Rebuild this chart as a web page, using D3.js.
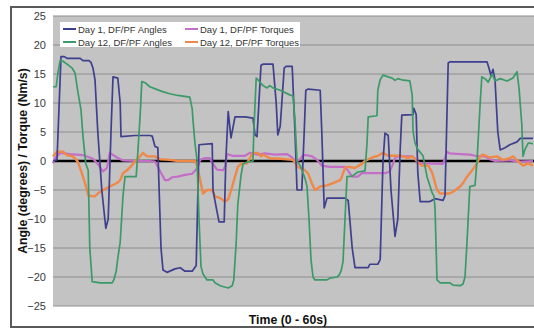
<!DOCTYPE html>
<html>
<head>
<meta charset="utf-8">
<script src="https://cdn.jsdelivr.net/npm/d3@7"></script>
<style>
  html, body { margin: 0; padding: 0; background: #fff; }
  svg { display: block; font-family: "Liberation Sans", Arial, sans-serif; }
</style>
</head>
<body>
<svg id="chart" width="534" height="329"></svg>
<script>
// ----------- Data: [time (s), value] ---------------------------------
const day1Angles = [
  [0,0],[0.5,0.2],[1,18],[1.4,18],[1.75,17.7],[3.4,17.7],[3.75,17.3],[4.5,17.3],[4.75,17],
  [5,16],[5.25,14],[5.6,5],[6.1,-5],[6.6,-11.6],[6.9,-10],[7.25,5],[7.5,14.5],[8.1,14.3],
  [8.4,10],[8.5,4.2],[10.25,4.4],[12.1,4.4],[12.4,4.3],[12.75,2.5],[13.1,2.3],[13.5,-15],
  [13.75,-18.8],[14.25,-19.2],[15.25,-18.6],[15.9,-18.4],[16.5,-19],[17.4,-19],[17.9,-18],
  [18.25,2.8],[19.9,3],[20,-5],[20.4,-8],[20.75,-10.5],[21.4,-10.5],[21.6,0],[21.9,8.5],
  [22.25,4],[22.75,7.6],[24,7.6],[25,7.4],[25.25,4.5],[25.5,4.2],[26,16.5],[26.25,16.7],
  [27.5,16.7],[27.9,10],[28.1,4.5],[28.4,6],[28.9,16],[29.1,16.3],[29.9,16.3],[30.25,5],
  [30.5,-5],[31.1,-5],[31.4,5],[31.6,12.2],[31.9,12.4],[33.4,12.2],[33.6,5],[33.9,-8.1],
  [34.25,-6.4],[36.5,-6.4],[36.9,-6.8],[37.4,-15],[37.75,-18.4],[39.4,-18.4],[39.6,-17.8],
  [40.6,-17.8],[40.9,-17],[41.25,0],[41.5,4.8],[41.9,4.4],[42.25,-5],[42.75,-13],[43.1,-10],
  [43.4,2],[43.6,7.9],[45,8],[45.1,9.1],[45.4,8],[45.6,-2],[45.9,-7],[47.1,-7],[47.75,-6.5],
  [48.75,-6.8],[49,-6],[49.4,16.9],[49.6,17.1],[54.25,17.1],[54.5,16],[54.75,14.7],[55,15.8],
  [55.25,14],[55.6,5],[55.9,1.9],[56.5,2.3],[57.1,2.8],[58,3.3],[58.4,3.9],[60,3.9]
];

const day12Angles = [
  [0,12.8],[0.4,12.8],[0.6,15],[0.9,17.4],[1.25,17.2],[1.75,16.7],[2.4,16],[2.75,15.2],
  [3.1,12],[3.5,8.8],[3.75,4.2],[4.1,-0.5],[4.4,-1.6],[4.6,-15],[4.9,-20.8],[5.9,-21],
  [7.4,-21],[7.6,-20.5],[7.9,-19],[8.1,-16.8],[8.4,-14],[8.75,-6],[9,-2.7],[10.4,-2.7],
  [10.6,1.4],[10.9,8],[11.1,13.7],[11.5,13.5],[12.1,12.8],[13.6,12],[14.6,11.6],[15.6,11.3],
  [17.1,11],[17.4,9],[17.5,7],[17.75,3],[18,0.2],[18.25,-10],[18.5,-18.2],[18.75,-19.5],
  [19.25,-20.5],[20,-20.5],[20.25,-21],[20.9,-21.5],[21.9,-21.9],[22.4,-21.5],[22.6,-20.5],
  [22.9,-14],[23,-10.7],[23.1,-7.5],[23.5,-2.5],[23.75,-0.5],[24.25,-0.2],[25,0],[25.1,5],
  [25.4,14.3],[25.75,13.8],[26.25,13],[26.75,12.6],[27.1,13],[27.5,12.6],[28.4,12.2],
  [29.6,11.4],[30,11.2],[30.25,7],[30.5,0],[30.9,-0.8],[31.5,-3],[31.75,-4.4],[32,-10],
  [32.25,-17],[32.5,-20],[32.75,-20.5],[34.25,-20.5],[34.6,-20.2],[35.5,-20],[35.75,-19.7],
  [36,-19],[36.25,-17.4],[36.5,-10],[36.75,-2.7],[37.4,-2.6],[38.1,-1.9],[39,-1.7],[39.25,3],
  [39.4,7.6],[40.5,7.8],[40.6,12.2],[40.9,14],[41.25,14.8],[41.9,14.5],[42.4,14.3],
  [42.75,13.9],[43.1,14.2],[43.6,14],[44.6,13.8],[44.9,11.4],[45,5.3],[45.25,3.1],[45.6,2],
  [46.25,0.9],[46.75,-2.7],[47.4,-5.5],[47.6,-6],[47.75,-8],[48,-20.5],[48.4,-21],[49.6,-21],
  [50,-21.4],[50.9,-21.5],[51.25,-21.2],[51.5,-20],[51.75,-14],[52.1,-4.4],[52.75,-4.2],
  [53,0],[53.4,10],[53.6,14.5],[54,14.2],[54.4,13.6],[54.9,15],[55.25,13.8],[55.9,14.2],
  [56.75,13.8],[57.5,14.3],[58,15.4],[58.25,12.6],[58.6,6.3],[58.75,0.8],[59,2],[59.4,3.1],[60,3]
];

const day1Torques = [
  [0,-0.4],[0.25,0.5],[0.9,1.4],[2.1,1.2],[3.75,1],[4.6,0.6],[5,0.4],[5.6,-0.5],[6.25,-1.8],
  [6.75,-1.2],[7.1,1.4],[8,0.6],[8.75,0.1],[10.25,0],[12.1,0],[12.75,-0.1],[13.1,-1],
  [13.4,-1.8],[14,-3.3],[14.4,-3.3],[14.9,-2.8],[15.6,-2.7],[16.5,-2.4],[17.4,-2.2],[18,-1.3],
  [18.4,0.2],[19,0.5],[19.6,0.5],[20,-0.5],[20.5,-1.5],[21.25,-1.6],[21.5,-1],[21.75,1.2],
  [22.4,0.9],[24,0.9],[24.6,1.4],[25.6,1.1],[26.5,1.3],[27.75,1.1],[29.25,1.2],[29.9,0.6],
  [30.25,-0.1],[30.9,0.3],[31.25,1],[31.75,1],[32.4,0.8],[33,0.2],[33.6,-0.8],[34.6,-1],
  [36.5,-1],[36.9,-1.7],[37.4,-2.7],[38.1,-2.7],[38.6,-2.1],[41.5,-2.1],[42.1,-1.8],
  [42.5,-0.5],[42.75,0.5],[43.1,0.8],[44.9,0.8],[45.25,0.4],[45.6,-0.3],[46.5,-0.4],
  [48.75,-0.5],[49,0.5],[49.25,1.6],[49.6,1.3],[50.9,1.2],[52.1,1.1],[52.75,0.9],[54,0.8],
  [54.6,0.3],[55.25,0],[57.1,0.1],[58.4,-0.1],[60,0]
];

const day12Torques = [
  [0,0.8],[0.5,1.6],[1.25,1.6],[1.75,1],[2.5,0.8],[3.1,-0.1],[3.6,-2.1],[4,-3.8],[4.4,-5.9],
  [4.9,-6.1],[5.25,-6.1],[5.6,-5.6],[6.25,-5],[7.1,-4.4],[8,-3.8],[8.4,-3.3],[8.75,-2.1],
  [9.25,-1.6],[9.9,-0.7],[10.25,0],[10.9,0.8],[11.25,1.4],[11.75,0.8],[12.75,0.8],[13.4,0.3],
  [14.6,0.2],[15.6,0],[17.75,0],[18,-0.8],[18.4,-3.3],[18.75,-5.6],[19.25,-5],[19.9,-5],
  [20.25,-6.1],[20.9,-6.4],[21.5,-7],[21.9,-6.6],[22.4,-4.4],[22.75,-2.7],[23.1,-1],
  [23.6,-0.4],[24.25,-0.4],[24.6,0.5],[25,1.4],[25.6,1.4],[26,0.8],[26.25,1.1],[27.1,0.5],
  [28.4,0.4],[30,0.2],[30.25,-0.3],[30.6,-1],[31.5,-1.6],[31.9,-2.2],[32.4,-4],[32.75,-5],
  [33.4,-4.4],[34.25,-4.2],[35,-3.8],[35.9,-3.3],[36.1,-2.7],[36.5,-1.2],[36.9,-1],
  [37.75,-1.2],[38.6,-0.5],[39,0],[39.9,0.6],[40.6,0.9],[41.25,1.4],[41.9,0.9],[43.6,0.9],
  [44.4,0.5],[44.9,0.8],[45.5,0],[46.1,-0.8],[46.9,-0.8],[47.4,-2],[48,-5],[48.4,-5.6],
  [49.6,-5.6],[50,-5.3],[50.9,-4.4],[51.25,-3.8],[51.75,-2.7],[52.4,-1.6],[53,-0.4],
  [53.4,0.8],[53.75,1.1],[54.6,0.6],[55.5,0.8],[56.25,0.2],[57.1,0.5],[57.5,0.8],[58.1,0],
  [58.75,-0.8],[59.4,-0.4],[60,-0.8]
];

const yTicks = [25, 20, 15, 10, 5, 0, -5, -10, -15, -20, -25];
const seriesNames = [
  "Day 1, DF/PF Angles", "Day 12, DF/PF Angles",
  "Day 1, DF/PF Torques", "Day 12, DF/PF Torques"
];
const seriesColors = ["#3f3f8f", "#3b9a68", "#c46ec8", "#f08848"];

// ----------- Layout ------------
const svg = d3.select("#chart");
const plot = { left: 53, right: 534, top: 16, bottom: 306 };

const x = d3.scaleLinear().domain([0, 60]).range([plot.left, plot.right - 1]);
const y = d3.scaleLinear().domain([-25, 25]).range([plot.bottom, plot.top]);

// outer frame
svg.append("rect")
  .attr("x", 11).attr("y", 7)
  .attr("width", 540).attr("height", 320)
  .attr("fill", "#fff")
  .attr("stroke", "#5a5a5a")
  .attr("stroke-width", 2);

// plot background
svg.append("rect")
  .attr("x", plot.left).attr("y", plot.top)
  .attr("width", plot.right - plot.left).attr("height", plot.bottom - plot.top)
  .attr("fill", "#c3c3c3");

// gridlines
svg.append("g")
  .selectAll("line")
  .data(yTicks)
  .join("line")
  .attr("x1", plot.left).attr("x2", plot.right)
  .attr("y1", d => y(d)).attr("y2", d => y(d))
  .attr("stroke", "#8e8e8e")
  .attr("stroke-width", 1);

// left axis tick labels
const yAxis = d3.axisLeft(y).tickValues(yTicks).tickSize(0).tickPadding(7);
const yg = svg.append("g")
  .attr("transform", `translate(${plot.left},0)`)
  .call(yAxis);
yg.select(".domain").remove();
yg.selectAll("text")
  .attr("fill", "#3a3a3a")
  .style("font-size", "11px");

// zero line
svg.append("line")
  .attr("x1", plot.left).attr("x2", plot.right)
  .attr("y1", y(0)).attr("y2", y(0))
  .attr("stroke", "#000")
  .attr("stroke-width", 2.5);

// series
const line = d3.line().x(d => x(d[0])).y(d => y(d[1]));
const allSeries = [day1Angles, day12Angles, day1Torques, day12Torques];
const widths = [1.7, 1.7, 2.2, 2.4];
const drawOrder = [2, 3, 0, 1];

drawOrder.forEach(i => {
  svg.append("path")
    .datum(allSeries[i])
    .attr("d", line)
    .attr("fill", "none")
    .attr("stroke", seriesColors[i])
    .attr("stroke-width", widths[i])
    .attr("stroke-linejoin", "round");
});

// legend
const legend = svg.append("g");
legend.append("rect")
  .attr("x", 60).attr("y", 22)
  .attr("width", 240).attr("height", 25)
  .attr("fill", "#fff");

const legendPos = [[63, 29], [63, 42], [185, 29], [185, 42]];
seriesNames.forEach((name, i) => {
  const [lx, ly] = legendPos[i];
  legend.append("line")
    .attr("x1", lx).attr("x2", lx + 13)
    .attr("y1", ly).attr("y2", ly)
    .attr("stroke", seriesColors[i])
    .attr("stroke-width", 2);
  legend.append("text")
    .attr("x", lx + 15).attr("y", ly + 3.5)
    .attr("fill", "#333")
    .style("font-size", "9.5px")
    .text(name);
});

// axis titles
svg.append("text")
  .attr("transform", `translate(27,${(plot.top + plot.bottom) / 2}) rotate(-90)`)
  .attr("text-anchor", "middle")
  .style("font-size", "12.3px")
  .style("font-weight", "bold")
  .attr("fill", "#111")
  .text("Angle (degrees) / Torque (Nm/s)");

svg.append("text")
  .attr("x", 288).attr("y", 324)
  .attr("text-anchor", "middle")
  .style("font-size", "12.3px")
  .style("font-weight", "bold")
  .attr("fill", "#111")
  .text("Time (0 - 60s)");
</script>
</body>
</html>
